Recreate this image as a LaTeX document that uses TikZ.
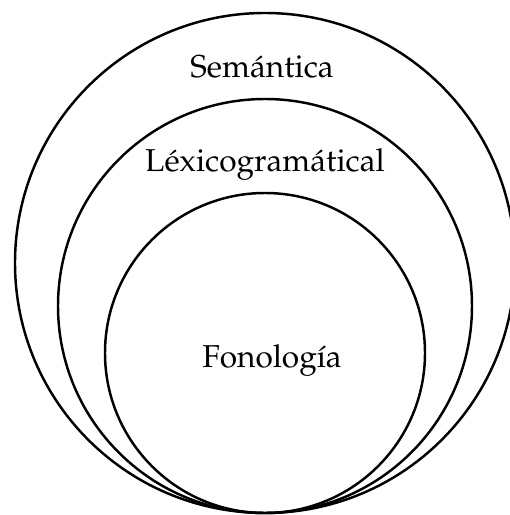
\documentclass[tikz,border=0pt]{standalone}
\usepackage[T1]{fontenc}
\usepackage{mathpazo}
\usepackage{tikz}
\usetikzlibrary{positioning, calc}

\begin{document}
\begin{tikzpicture}[scale=1, every node/.style={font=\fontsize{18}{20}\selectfont}]
    \useasboundingbox (0,0) rectangle (10.2,10.3);

    % ---------------- NESTED CIRCLES ----------------
    \coordinate (touch) at (5.3,0.04);
    \draw[line width=1.4pt] ($(touch)+(0,5.0)$) circle (5.0);   % Semantica
    \draw[line width=1.4pt] ($(touch)+(0,4.14)$) circle (4.14); % Lexicogramatical
    \draw[line width=1.4pt] ($(touch)+(0,3.2)$) circle (3.2);   % Fonologia

    % ---------------- LABELS ----------------
    \node[anchor=base] (semantica) at (5.24,8.74) {Semántica};
    \node[anchor=base] (lexico) at (5.3,6.86) {Léxicogramátical};
    \node[anchor=base] (fonologia) at (5.44,2.94) {Fonología};
\end{tikzpicture}
\end{document}
